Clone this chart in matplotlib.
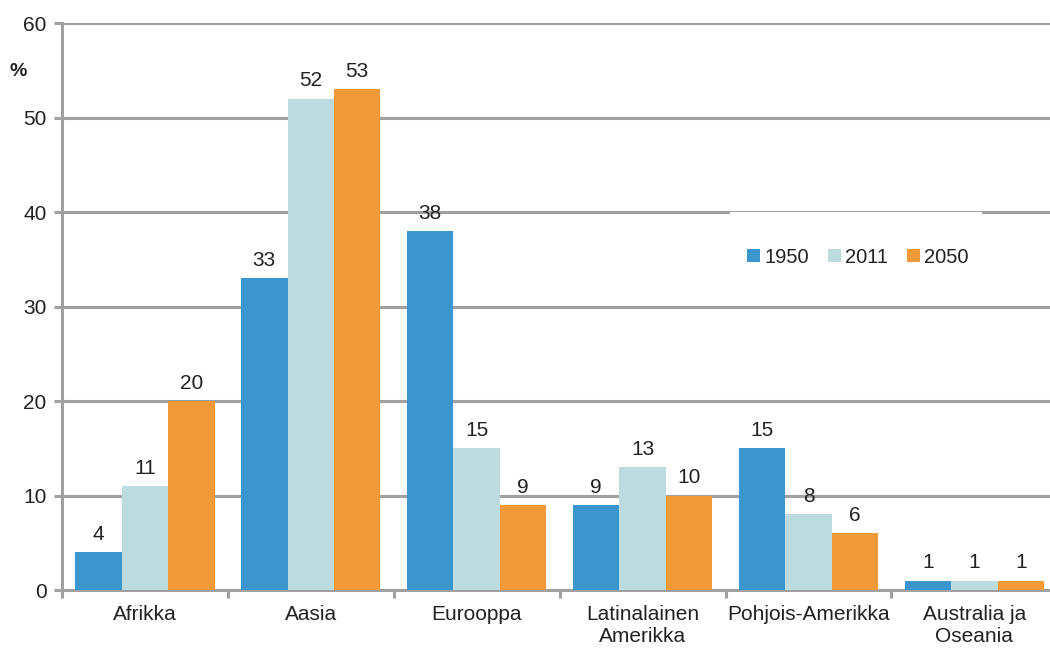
import matplotlib.pyplot as plt
from matplotlib.patches import Rectangle
import numpy as np

plt.rcParams['font.family'] = ['Liberation Sans', 'DejaVu Sans']

regions = ['Afrikka', 'Aasia', 'Eurooppa', 'Latinalainen\nAmerikka',
           'Pohjois-Amerikka', 'Australia ja\nOseania']
years = ['1950', '2011', '2050']
share_1950 = [4, 33, 38, 9, 15, 1]
share_2011 = [11, 52, 15, 13, 8, 1]
share_2050 = [20, 53, 9, 10, 6, 1]
colors = ['#3a96cc', '#bcdbdf', '#f29a3a']

fig = plt.figure(figsize=(10.5, 6.48), dpi=100)
ax = fig.add_axes([0.059, 0.0895, 0.948, 0.875])

x = np.arange(len(regions))
w = 0.28
grid_color = '#a0a0a0'
txt_color = '#222222'
fs = 15

for i, (vals, col, yr) in enumerate(zip([share_1950, share_2011, share_2050], colors, years)):
    bars = ax.bar(x + (i - 1) * w, vals, w, color=col, label=yr, zorder=3)
    for b, v in zip(bars, vals):
        ax.annotate(str(v), (b.get_x() + b.get_width() / 2, v), xytext=(0, 6),
                    textcoords='offset points', ha='center', va='bottom',
                    fontsize=fs, color=txt_color)

ax.set_ylim(0, 60)
ax.set_xlim(-0.5, 5.5)
ax.set_yticks(range(0, 61, 10))
ax.yaxis.grid(True, color=grid_color, linewidth=2.2, zorder=0)
ax.set_axisbelow(True)

for s in ['top', 'right']:
    ax.spines[s].set_visible(False)
for s in ['left', 'bottom']:
    ax.spines[s].set_color(grid_color)
    ax.spines[s].set_linewidth(2.2)

ax.set_xticks(np.arange(-0.5, 6, 1))
ax.set_xticklabels([])
ax.set_xticks(x, minor=True)
ax.set_xticklabels(regions, minor=True, fontsize=fs, color=txt_color, linespacing=1.2)
ax.tick_params(axis='x', which='major', length=6, width=2.2, color=grid_color)
ax.tick_params(axis='x', which='minor', length=0, pad=11)
ax.tick_params(axis='y', length=6, width=2.2, color=grid_color, labelsize=fs,
               labelcolor=txt_color, pad=5)

fig.text(0.009, 0.889, '%', fontsize=14, fontweight='bold', color=txt_color,
         ha='left', va='center')

# white legend background (hides part of the 40 gridline as in the original)
ax.add_patch(Rectangle((0.695, 0.532), 0.24, 0.141, transform=fig.transFigure,
                       facecolor='white', edgecolor='none', zorder=2))

leg = ax.legend(loc='center', bbox_to_anchor=(0.817, 0.603), bbox_transform=fig.transFigure,
                ncol=3, fontsize=14.5, frameon=False, borderpad=0,
                handlelength=0.65, handleheight=0.65, handletextpad=0.2,
                columnspacing=0.95, borderaxespad=0)
leg.set_zorder(5)
for t in leg.get_texts():
    t.set_color(txt_color)

fig.savefig('out.png', dpi=100)
